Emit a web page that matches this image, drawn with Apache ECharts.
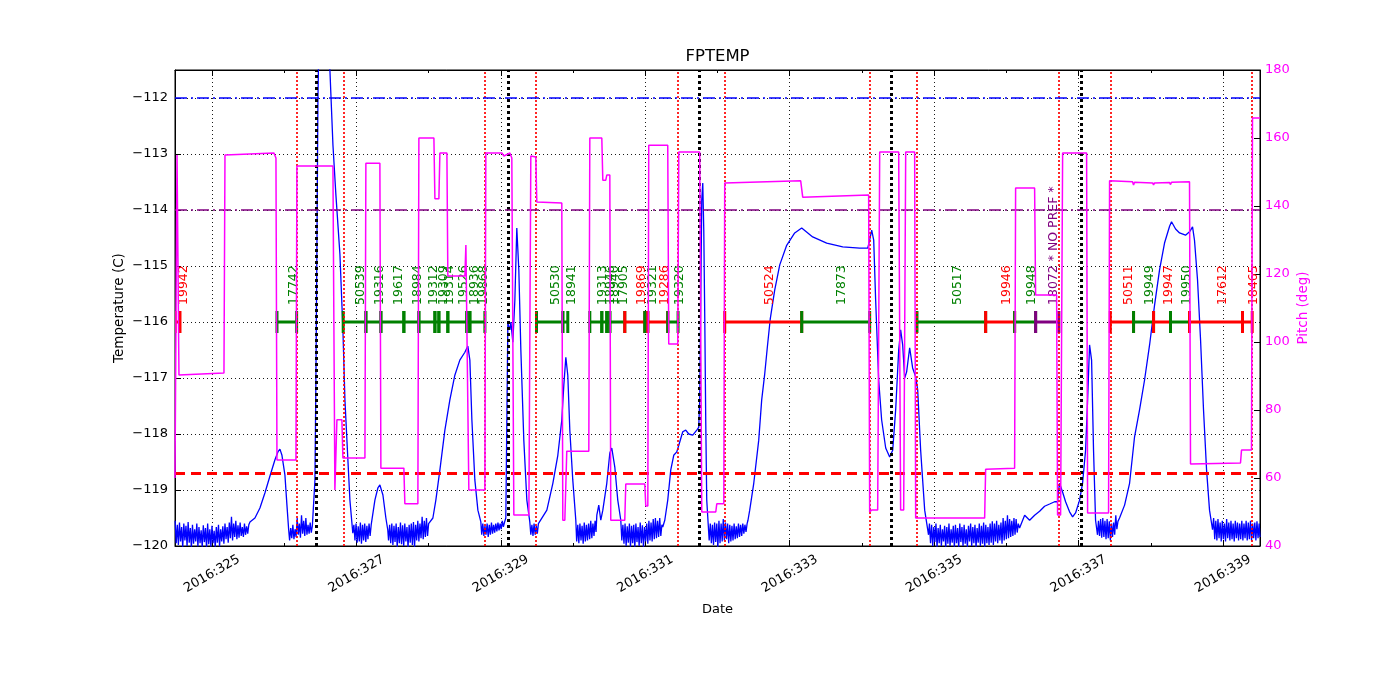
<!DOCTYPE html>
<html><head><meta charset="utf-8">
<script src="https://cdn.jsdelivr.net/npm/echarts@6/dist/echarts.min.js"></script>
<style>html,body{margin:0;padding:0;background:#fff}#c{width:1400px;height:700px}</style>
</head><body><div id="c"></div><script>
// ---- data (x = day of year 2016) ----
const DAY0 = 325;
const xRange = [324.488, 339.512];
const tempRange = [-120, -111.5];
const pitchRange = [40, 180];

const temperature = [
[324.490,-119.55],[324.505,-119.95],[324.520,-119.62],[324.535,-119.98],[324.550,-119.58],[324.565,-119.92],[324.580,-119.66],[324.595,-120.02],[324.610,-119.6],[324.625,-119.9],[324.640,-119.64],[324.655,-120.0],[324.670,-119.57],[324.685,-119.94],[324.700,-119.68],[324.715,-120.03],[324.730,-119.62],[324.745,-119.96],[324.760,-119.7],[324.775,-119.92],[324.790,-119.6],[324.805,-120.01],[324.820,-119.66],[324.835,-119.95],[324.850,-119.72],[324.865,-120.02],[324.880,-119.63],[324.895,-119.93],[324.910,-119.68],[324.925,-120.04],[324.940,-119.6],[324.955,-119.97],[324.970,-119.7],[324.985,-120.02],[325.000,-119.64],[325.015,-119.95],[325.030,-119.73],[325.045,-120.03],[325.060,-119.66],[325.075,-119.94],[325.090,-119.62],[325.105,-120.01],[325.120,-119.7],[325.135,-119.92],[325.150,-119.65],[325.165,-119.96],[325.180,-119.6],[325.195,-119.88],[325.210,-119.66],[325.225,-119.94],[325.240,-119.58],[325.255,-119.86],[325.270,-119.48],[325.285,-119.9],[325.300,-119.6],[325.315,-119.84],[325.330,-119.55],[325.345,-119.88],[325.360,-119.63],[325.375,-119.85],[325.390,-119.58],[325.405,-119.82],[325.420,-119.66],[325.435,-119.84],[325.450,-119.6],[325.465,-119.8],[325.480,-119.65],[325.495,-119.78],[325.510,-119.62],
[325.526,-119.57],[325.595,-119.50],[325.664,-119.32],[325.734,-119.05],[325.803,-118.75],[325.872,-118.46],[325.913,-118.32],[325.941,-118.27],[325.969,-118.38],[326.010,-118.73],[326.038,-119.27],[326.062,-119.71],
[326.075,-119.9],[326.090,-119.68],[326.105,-119.86],[326.120,-119.62],[326.135,-119.88],[326.150,-119.7],[326.165,-119.84],[326.180,-119.5],[326.195,-119.8],[326.210,-119.6],[326.225,-119.85],[326.240,-119.45],[326.255,-119.78],[326.270,-119.55],[326.285,-119.82],[326.300,-119.5],[326.315,-119.8],[326.330,-119.62],[326.345,-119.78],[326.360,-119.58],[326.375,-119.76],[326.390,-119.64],
[326.400,-119.66],[326.426,-118.82],[326.439,-117.04],[326.453,-114.71],[326.467,-112.04],[326.481,-110.9],[326.522,-110.4],[326.605,-110.7],[326.633,-111.5],[326.675,-112.84],[326.716,-113.73],[326.772,-114.80],[326.813,-116.14],[326.841,-117.39],[326.882,-118.46],[326.910,-119.18],[326.950,-119.77],
[326.965,-119.62],[326.980,-119.9],[326.995,-119.6],[327.010,-119.94],[327.025,-119.65],[327.040,-119.92],[327.055,-119.58],[327.070,-119.96],[327.085,-119.62],[327.100,-119.9],[327.115,-119.6],[327.130,-119.93],[327.145,-119.64],[327.160,-119.88],[327.175,-119.6],[327.190,-119.82],[327.205,-119.62],
[327.220,-119.63],[327.256,-119.18],[327.298,-118.96],[327.325,-118.91],[327.367,-119.09],[327.408,-119.5],[327.434,-119.71],
[327.445,-119.9],[327.460,-119.62],[327.475,-119.95],[327.490,-119.6],[327.505,-119.98],[327.520,-119.64],[327.535,-119.93],[327.550,-119.6],[327.565,-120.02],[327.580,-119.66],[327.595,-119.95],[327.610,-119.58],[327.625,-119.97],[327.640,-119.63],[327.655,-120.0],[327.670,-119.6],[327.685,-119.92],[327.700,-119.66],[327.715,-120.03],[327.730,-119.62],[327.745,-119.94],[327.760,-119.6],[327.775,-119.98],[327.790,-119.57],[327.805,-120.02],[327.820,-119.62],[327.835,-119.9],[327.850,-119.55],[327.865,-119.92],[327.880,-119.6],[327.895,-119.86],[327.910,-119.48],[327.925,-119.88],[327.940,-119.55],[327.955,-119.84],[327.970,-119.5],[327.985,-119.82],[328.000,-119.6],
[328.017,-119.63],[328.059,-119.5],[328.100,-119.18],[328.156,-118.64],[328.225,-117.93],[328.294,-117.39],[328.363,-116.95],[328.432,-116.68],[328.502,-116.54],[328.543,-116.43],[328.571,-116.68],[328.599,-117.75],[328.640,-118.82],[328.682,-119.36],[328.723,-119.57],
[328.735,-119.8],[328.750,-119.6],[328.765,-119.82],[328.780,-119.64],[328.795,-119.8],[328.810,-119.6],[328.825,-119.84],[328.840,-119.62],[328.855,-119.8],[328.870,-119.58],[328.885,-119.78],[328.900,-119.62],[328.915,-119.76],[328.930,-119.6],[328.945,-119.74],[328.960,-119.58],[328.975,-119.72],[328.990,-119.6],[329.005,-119.7],[329.020,-119.55],[329.035,-119.66],[329.050,-119.58],
[329.069,-119.5],[329.083,-117.75],[329.097,-116.02],[329.125,-116.14],[329.139,-116.0],[329.166,-116.36],[329.194,-115.61],[329.221,-114.32],[329.249,-115.07],[329.277,-116.5],[329.318,-118.11],[329.360,-119.18],[329.401,-119.57],
[329.415,-119.8],[329.430,-119.62],[329.445,-119.82],[329.460,-119.6],[329.475,-119.8],[329.490,-119.64],[329.505,-119.78],[329.520,-119.6],
[329.540,-119.63],[329.637,-119.36],[329.720,-118.88],[329.789,-118.38],[329.844,-117.75],[329.872,-117.13],[329.900,-116.63],[329.927,-116.95],[329.955,-117.93],[329.996,-118.82],[330.038,-119.54],
[330.050,-119.92],[330.065,-119.62],[330.080,-119.95],[330.095,-119.6],[330.110,-119.9],[330.125,-119.64],[330.140,-119.96],[330.155,-119.58],[330.170,-119.92],[330.185,-119.62],[330.200,-119.9],[330.215,-119.6],[330.230,-119.88],[330.245,-119.55],[330.260,-119.86],[330.275,-119.6],[330.290,-119.82],[330.305,-119.55],[330.318,-119.75],
[330.329,-119.45],[330.356,-119.27],[330.384,-119.54],[330.412,-119.36],[330.467,-118.88],[330.509,-118.34],[330.536,-118.25],[330.578,-118.59],[330.619,-119.18],[330.661,-119.54],
[330.675,-119.9],[330.690,-119.62],[330.705,-119.96],[330.720,-119.6],[330.735,-120.0],[330.750,-119.65],[330.765,-119.94],[330.780,-119.6],[330.795,-120.02],[330.810,-119.64],[330.825,-119.95],[330.840,-119.62],[330.855,-120.03],[330.870,-119.6],[330.885,-119.93],[330.900,-119.66],[330.915,-120.0],[330.930,-119.58],[330.945,-119.95],[330.960,-119.63],[330.975,-120.02],[330.990,-119.66],[331.005,-119.92],[331.020,-119.6],[331.035,-119.96],[331.050,-119.55],[331.065,-119.9],[331.080,-119.58],[331.095,-119.92],[331.110,-119.52],[331.125,-119.88],[331.140,-119.5],[331.155,-119.86],[331.170,-119.55],[331.185,-119.84],[331.200,-119.5],[331.215,-119.82],[331.230,-119.62],
[331.242,-119.66],[331.270,-119.54],[331.311,-119.18],[331.353,-118.64],[331.394,-118.38],[331.436,-118.32],[331.464,-118.2],[331.519,-117.96],[331.560,-117.93],[331.602,-118.0],[331.657,-118.02],[331.713,-117.93],[331.740,-117.88],[331.754,-117.39],[331.768,-115.61],[331.782,-113.82],[331.796,-113.52],[331.810,-114.36],[331.824,-115.96],[331.837,-117.75],[331.851,-119.18],[331.872,-119.63],
[331.885,-119.9],[331.900,-119.6],[331.915,-119.95],[331.930,-119.62],[331.945,-119.98],[331.960,-119.58],[331.975,-119.93],[331.990,-119.6],[332.005,-120.02],[332.020,-119.55],[332.035,-119.95],[332.050,-119.6],[332.065,-119.92],[332.080,-119.52],[332.095,-119.9],[332.110,-119.58],[332.125,-119.88],[332.140,-119.6],[332.155,-119.95],[332.170,-119.62],[332.185,-119.92],[332.200,-119.64],[332.215,-119.9],[332.230,-119.6],[332.245,-119.88],[332.260,-119.65],[332.275,-119.86],[332.290,-119.6],[332.305,-119.84],[332.320,-119.62],[332.335,-119.82],[332.350,-119.6],[332.365,-119.78],[332.380,-119.62],[332.395,-119.75],[332.410,-119.6],
[332.422,-119.54],[332.446,-119.36],[332.502,-118.88],[332.571,-118.11],[332.612,-117.39],[332.652,-116.95],[332.690,-116.45],[332.730,-115.95],[332.792,-115.43],[332.862,-114.98],[332.958,-114.63],[333.069,-114.41],[333.166,-114.32],[333.318,-114.48],[333.512,-114.59],[333.734,-114.66],[333.969,-114.68],[334.080,-114.68],[334.107,-114.54],[334.135,-114.36],[334.163,-114.54],[334.190,-115.61],[334.232,-117.04],[334.273,-117.75],[334.329,-118.25],[334.384,-118.41],[334.426,-118.29],[334.467,-117.57],[334.509,-116.5],[334.536,-116.14],[334.564,-116.41],[334.592,-117.0],[334.619,-116.89],[334.661,-116.46],[334.702,-116.82],[334.744,-116.98],[334.772,-117.21],[334.813,-118.29],[334.869,-119.36],[334.922,-119.8],
[334.935,-119.6],[334.950,-119.95],[334.965,-119.62],[334.980,-120.0],[334.995,-119.66],[335.010,-119.93],[335.025,-119.6],[335.040,-120.02],[335.055,-119.68],[335.070,-119.95],[335.085,-119.62],[335.100,-120.0],[335.115,-119.7],[335.130,-119.92],[335.145,-119.64],[335.160,-120.03],[335.175,-119.66],[335.190,-119.96],[335.205,-119.6],[335.220,-120.0],[335.235,-119.7],[335.250,-119.94],[335.265,-119.64],[335.280,-120.02],[335.295,-119.62],[335.310,-119.95],[335.325,-119.68],[335.340,-120.03],[335.355,-119.6],[335.370,-119.93],[335.385,-119.66],[335.400,-120.0],[335.415,-119.62],[335.430,-119.96],[335.445,-119.7],[335.460,-120.02],[335.475,-119.64],[335.490,-119.92],[335.505,-119.6],[335.520,-120.0],[335.535,-119.66],[335.550,-119.95],[335.565,-119.62],[335.580,-120.03],[335.595,-119.68],[335.610,-119.94],[335.625,-119.6],[335.640,-120.0],[335.655,-119.64],[335.670,-119.96],[335.685,-119.58],[335.700,-120.02],[335.715,-119.62],[335.730,-119.95],[335.745,-119.66],[335.760,-119.98],[335.775,-119.6],[335.790,-119.94],[335.805,-119.56],[335.820,-119.98],[335.835,-119.6],[335.850,-119.92],[335.865,-119.55],[335.880,-119.95],[335.895,-119.62],[335.910,-119.9],[335.925,-119.58],[335.940,-119.96],[335.955,-119.5],[335.970,-119.9],[335.985,-119.55],[336.000,-119.88],[336.015,-119.45],[336.030,-119.86],[336.045,-119.52],[336.060,-119.84],[336.075,-119.55],[336.090,-119.82],[336.105,-119.5],[336.120,-119.8],[336.135,-119.52],[336.150,-119.76],[336.165,-119.6],
[336.183,-119.68],[336.253,-119.45],[336.322,-119.54],[336.391,-119.45],[336.460,-119.38],[336.529,-119.29],[336.599,-119.25],[336.668,-119.21],[336.709,-119.21],[336.723,-119.0],[336.737,-118.88],[336.779,-119.04],[336.820,-119.21],[336.875,-119.39],[336.917,-119.48],[336.958,-119.41],[337.014,-119.18],[337.055,-118.88],[337.097,-118.29],[337.125,-117.39],[337.152,-116.41],[337.166,-116.38],[337.180,-116.68],[337.207,-118.29],[337.235,-119.54],[337.262,-119.8],
[337.275,-119.55],[337.290,-119.82],[337.305,-119.52],[337.320,-119.85],[337.335,-119.5],[337.350,-119.84],[337.365,-119.55],[337.380,-119.88],[337.395,-119.52],[337.410,-119.86],[337.425,-119.56],[337.440,-119.9],[337.455,-119.6],[337.470,-119.84],[337.485,-119.58],[337.500,-119.8],[337.515,-119.45],[337.530,-119.7],[337.545,-119.56],
[337.567,-119.5],[337.637,-119.27],[337.706,-118.88],[337.775,-118.05],[337.844,-117.57],[337.913,-117.04],[337.983,-116.41],[338.052,-115.70],[338.121,-115.07],[338.190,-114.59],[338.260,-114.29],[338.287,-114.21],[338.343,-114.34],[338.398,-114.41],[338.481,-114.45],[338.536,-114.39],[338.578,-114.30],[338.605,-114.54],[338.647,-115.25],[338.689,-116.32],[338.730,-117.57],[338.772,-118.64],[338.813,-119.36],[338.855,-119.71],
[338.870,-119.5],[338.885,-119.88],[338.900,-119.55],[338.915,-119.9],[338.930,-119.52],[338.945,-119.86],[338.960,-119.58],[338.975,-119.92],[338.990,-119.55],[339.005,-119.88],[339.020,-119.6],[339.035,-119.92],[339.050,-119.52],[339.065,-119.86],[339.080,-119.58],[339.095,-119.9],[339.110,-119.55],[339.125,-119.88],[339.140,-119.6],[339.155,-119.92],[339.170,-119.55],[339.185,-119.86],[339.200,-119.58],[339.215,-119.9],[339.230,-119.6],[339.245,-119.88],[339.260,-119.55],[339.275,-119.9],[339.290,-119.6],[339.305,-119.86],[339.320,-119.55],[339.335,-119.9],[339.350,-119.58],[339.365,-119.88],[339.380,-119.55],[339.395,-119.9],[339.410,-119.6],[339.425,-119.86],[339.440,-119.58],[339.455,-119.9],[339.470,-119.56],[339.485,-119.86],[339.500,-119.6],[339.512,-119.84]
];

const pitch = [
[324.488,60.0],[324.516,155.0],[324.543,90.3],[325.166,90.9],[325.180,155.0],[325.858,155.6],[325.886,154.1],[325.900,65.3],[326.163,65.3],[326.176,151.8],[326.675,151.8],[326.702,56.5],[326.730,77.1],[326.799,77.1],[326.813,65.9],[327.118,65.9],[327.131,152.6],[327.325,152.6],[327.339,62.9],[327.657,62.9],[327.671,52.4],[327.851,52.4],[327.865,160.0],[328.073,160.0],[328.087,142.1],[328.142,142.1],[328.156,155.6],[328.253,155.6],[328.266,119.4],[328.502,119.4],[328.516,128.5],[328.543,128.5],[328.557,56.5],[328.779,56.5],[328.792,155.6],[329.014,155.6],[329.042,154.7],[329.125,155.6],[329.152,154.1],[329.180,49.1],[329.388,49.1],[329.415,154.7],[329.484,154.4],[329.498,141.2],[329.844,140.9],[329.858,47.6],[329.886,47.6],[329.913,67.9],[330.218,67.9],[330.232,160.0],[330.398,160.0],[330.412,147.6],[330.453,147.6],[330.467,149.1],[330.509,149.1],[330.522,47.6],[330.716,47.6],[330.730,58.2],[330.993,58.2],[331.007,51.8],[331.035,51.8],[331.048,157.9],[331.311,157.9],[331.325,99.4],[331.450,99.4],[331.464,155.9],[331.754,155.9],[331.782,50.0],[331.976,50.0],[331.990,52.4],[332.087,52.4],[332.100,146.8],[333.152,147.4],[333.180,142.6],[334.093,143.2],[334.107,50.0],[334.135,50.6],[334.218,50.6],[334.246,155.9],[334.509,155.9],[334.536,50.6],[334.578,50.6],[334.606,155.9],[334.730,155.9],[334.744,48.2],[335.699,48.2],[335.713,62.6],[336.114,62.9],[336.128,145.3],[336.391,145.3],[336.405,113.8],[336.696,113.8],[336.709,49.1],[336.751,49.1],[336.779,155.6],[337.111,155.6],[337.125,49.7],[337.415,49.7],[337.429,147.4],[337.747,147.1],[337.761,146.2],[337.775,147.0],[338.025,146.8],[338.038,146.2],[338.052,146.8],[338.260,146.9],[338.273,146.3],[338.287,147.0],[338.536,147.1],[338.550,64.1],[339.242,64.4],[339.256,68.2],[339.394,68.2],[339.408,165.9],[339.512,165.9]
];

// [start day, end day, label, colour key]
const segments = [
[324.49,324.557,'19942','r'],
[325.900,326.172,'17742','g'],
[326.817,327.131,'50539','g'],
[327.131,327.339,'19316','g'],
[327.339,327.657,'19617','g'],
[327.657,327.865,'18984','g'],
[327.865,328.087,'19312','g'],
[328.087,328.142,'19309','g'],
[328.142,328.266,'19314','g'],
[328.266,328.529,'19526','g'],
[328.529,328.571,'18936','g'],
[328.571,328.779,'19868','g'],
[329.494,329.858,'50530','g'],
[329.858,329.927,'18941','g'],
[330.232,330.398,'19313','g'],
[330.398,330.467,'18946','g'],
[330.467,330.509,'18940','g'],
[330.509,330.716,'17905','g'],
[330.716,330.993,'19869','r'],
[330.993,331.035,'19321','g'],
[331.035,331.311,'19286','r'],
[331.311,331.454,'19320','g'],
[332.100,333.166,'50524','r'],
[333.166,334.107,'17873','g'],
[334.762,335.713,'50517','g'],
[335.713,336.114,'19946','r'],
[336.114,336.405,'19948','g'],
[336.405,336.727,'18072 * NO PREF *','p'],
[337.439,337.761,'50511','r'],
[337.761,338.038,'19949','g'],
[338.038,338.273,'19947','r'],
[338.273,338.536,'19950','g'],
[338.536,339.270,'17612','r'],
[339.270,339.404,'18465','r']
];
const segmentLevel = -116;

const redLines = [326.172,326.817,328.779,329.494,331.454,332.100,334.107,334.762,336.727,337.439,339.404];
const blackLines = [326.453,329.100,331.754,334.405,337.040];
const planningLimit = -112;
const cautionLimit = -114;
const acisLimit = -118.7;

// ---- chart ----
const FONT = '"DejaVu Sans", sans-serif';
const COLORS = {g:'#008000', r:'#FF0000', p:'#800080'};
const minus = v => (v < 0 ? '\u2212' + Math.abs(v) : String(v));
const isInt = v => Math.abs(v - Math.round(v)) < 1e-6;

const markData = [];
redLines.forEach(d => markData.push({xAxis: d - DAY0, lineStyle:{color:'#FF0000', type:[2,2], width:2, opacity:0.85}}));
blackLines.forEach(d => markData.push({xAxis: d - DAY0, lineStyle:{color:'#000000', type:[3,3], width:3}}));
markData.push({yAxis: planningLimit, lineStyle:{color:'#0000FF', type:[12,4,2,4], width:1.5}});
markData.push({yAxis: cautionLimit, lineStyle:{color:'#800080', type:[12,4,2,4], width:1.5}});
markData.push({yAxis: acisLimit, lineStyle:{color:'#FF0000', type:[10,6], width:3}});

const xCommon = {
  type:'value', min: xRange[0]-DAY0, max: xRange[1]-DAY0, minInterval:2, maxInterval:2,
  axisLine:{show:true, onZero:false, lineStyle:{color:'#000', width:1}},
  axisTick:{show:true, inside:true, length:6, lineStyle:{color:'#000', width:1}},
  minorTick:{show:true, splitNumber:2, length:3, lineStyle:{color:'#000', width:1}}
};

const chart = echarts.init(document.getElementById('c'), null, {renderer:'canvas'});
chart.setOption({
  animation:false,
  backgroundColor:'#ffffff',
  textStyle:{fontFamily:FONT},
  grid:{left:175, right:140, top:70, bottom:154, show:true, borderColor:'#000', borderWidth:1, backgroundColor:'rgba(0,0,0,0)'},
  xAxis:[
    Object.assign({}, xCommon, {
      position:'bottom',
      axisLabel:{show:true, rotate:30, align:'center', verticalAlign:'middle', margin:28, fontSize:13, color:'#000', fontFamily:FONT,
        formatter: v => isInt(v) ? '2016:' + (DAY0 + Math.round(v)) : ''},
      splitLine:{show:true, lineStyle:{color:'#000', type:[1,3], width:1, opacity:0.9}},
      name:'Date', nameLocation:'middle', nameGap:57, nameMoveOverlap:false, nameTextStyle:{fontSize:13, color:'#000', fontFamily:FONT}
    }),
    Object.assign({}, xCommon, {
      position:'top',
      axisLabel:{show:false}, splitLine:{show:false},
      name:'FPTEMP', nameLocation:'middle', nameGap:5, nameTextStyle:{fontSize:16.5, color:'#000', fontFamily:FONT}
    })
  ],
  yAxis:[
    {type:'value', position:'left', min:tempRange[0], max:tempRange[1], interval:1,
     axisLine:{show:true, onZero:false, lineStyle:{color:'#000'}},
     axisTick:{show:true, inside:true, length:6, lineStyle:{color:'#000'}},
     axisLabel:{fontSize:13, color:'#000', margin:7, fontFamily:FONT, formatter: v => isInt(v) ? minus(Math.round(v)) : ''},
     splitLine:{show:true, lineStyle:{color:'#000', type:[1,3], width:1, opacity:0.9}},
     name:'Temperature (C)', nameLocation:'middle', nameGap:49, nameMoveOverlap:false, nameTextStyle:{fontSize:13.5, color:'#000', fontFamily:FONT}},
    {type:'value', position:'right', min:pitchRange[0], max:pitchRange[1], interval:20,
     axisLine:{show:true, onZero:false, lineStyle:{color:'#000'}},
     axisTick:{show:true, inside:true, length:6, lineStyle:{color:'#000'}},
     axisLabel:{fontSize:13, color:'#FF00FF', margin:5, fontFamily:FONT},
     splitLine:{show:false},
     name:'Pitch (deg)', nameLocation:'middle', nameGap:36, nameRotate:90, nameMoveOverlap:false, nameTextStyle:{fontSize:13.5, color:'#FF00FF', fontFamily:FONT}}
  ],
  series:[
    {type:'line', name:'FPTEMP', xAxisIndex:0, yAxisIndex:0, z:3,
     data: temperature.map(p => [p[0]-DAY0, p[1]]),
     showSymbol:false, symbol:'none', clip:true, silent:true,
     lineStyle:{color:'#0000FF', width:1.3},
     markLine:{silent:true, symbol:['none','none'], label:{show:false}, animation:false, data: markData}},
    {type:'custom', name:'obsids', xAxisIndex:0, yAxisIndex:0, z:4, silent:true, clip:true,
     data: segments.map(s => [s[0]-DAY0, s[1]-DAY0, segmentLevel]),
     encode:{x:[0,1], y:2},
     renderItem:(params, api) => {
       const seg = segments[params.dataIndex];
       const col = COLORS[seg[3]];
       const p0 = api.coord([api.value(0), api.value(2)]);
       const p1 = api.coord([api.value(1), api.value(2)]);
       const mid = (p0[0] + p1[0]) / 2;
       return {type:'group', children:[
         {type:'line', shape:{x1:p0[0], y1:p0[1], x2:p1[0], y2:p1[1]}, style:{stroke:col, lineWidth:3}},
         {type:'rect', shape:{x:p0[0]-1.5, y:p0[1]-11, width:3, height:22}, style:{fill:col}},
         {type:'rect', shape:{x:p1[0]-1.5, y:p1[1]-11, width:3, height:22}, style:{fill:col}},
         {type:'text', x:mid, y:p0[1]-17, rotation:Math.PI/2,
          style:{text:seg[2], fill:col, font:'12.5px ' + FONT, align:'left', verticalAlign:'top'}}
       ]};
     }},
    {type:'line', name:'Pitch', xAxisIndex:0, yAxisIndex:1, z:5,
     data: pitch.map(p => [p[0]-DAY0, p[1]]),
     showSymbol:false, symbol:'none', clip:true, silent:true,
     lineStyle:{color:'#FF00FF', width:1.5}}
  ]
});
</script></body></html>
